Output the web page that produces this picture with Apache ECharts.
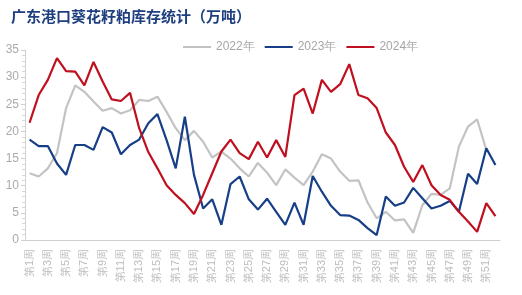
<!DOCTYPE html>
<html>
<head>
<meta charset="utf-8">
<script src="https://cdn.jsdelivr.net/npm/echarts@6/dist/echarts.min.js"></script>
<style>
  html, body { margin: 0; padding: 0; background: #fff; }
  #chart { width: 522px; height: 295px; }
</style>
</head>
<body>
<div id="chart"></div>
<script>
  // weeks 1..52
  var weeks = []
  for (var i = 1; i <= 52; i++) weeks.push('第' + i + '周')

  var y2022 = [12.3, 11.7, 13.2, 16.0, 24.3, 28.5, 27.3, 25.5, 23.8, 24.3, 23.3, 23.9, 25.8,
    25.6, 26.4, 23.6, 20.6, 18.4, 20.1, 18.1, 15.2, 16.3, 15.0, 13.2, 11.7, 14.2,
    12.4, 10.1, 13.0, 11.5, 10.1, 12.6, 15.8, 15.0, 12.6, 10.9, 11.0, 6.9, 4.0,
    5.2, 3.6, 3.8, 1.3, 6.4, 8.5, 8.3, 9.5, 17.2, 20.9, 22.2, 16.6]
  var y2023 = [18.5, 17.3, 17.3, 14.1, 12.0, 17.5, 17.5, 16.6, 20.8, 19.8, 15.8, 17.5, 18.5,
    21.5, 23.2, 18.4, 13.2, 22.7, 12.0, 5.8, 7.5, 2.8, 10.3, 11.7, 7.5, 5.6,
    7.6, 5.2, 2.8, 6.9, 2.8, 11.8, 8.9, 6.3, 4.6, 4.5, 3.7, 2.2, 0.9,
    8.0, 6.3, 6.9, 9.6, 7.7, 5.8, 6.3, 7.2, 5.2, 12.2, 10.3, 16.9, 13.8]
  var y2024 = [21.6, 26.7, 29.5, 33.5, 31.1, 31.0, 28.5, 32.8, 29.2, 25.9, 25.6, 27.1, 20.6,
    16.2, 13.2, 10.1, 8.3, 6.8, 4.8, 8.3, 12.3, 16.3, 18.5, 16.0, 14.9, 18.1,
    15.2, 18.4, 15.3, 26.7, 27.9, 23.3, 29.5, 27.3, 28.7, 32.4, 26.7, 26.1, 24.3,
    19.8, 17.5, 13.5, 10.7, 13.8, 10.1, 8.3, 7.4, 5.2, 3.4, 1.5, 6.8, 4.4]

  var chart = echarts.init(document.getElementById('chart'))
  chart.setOption({
    animation: false,
    title: {
      text: '广东港口葵花籽粕库存统计（万吨）',
      left: 6,
      top: 4,
      textStyle: {
        color: '#1f3f7f',
        fontSize: 15,
        fontWeight: 'bold',
        fontFamily: 'Noto Sans CJK SC'
      }
    },
    legend: {
      left: 178,
      top: 36,
      itemWidth: 28,
      itemHeight: 2,
      itemGap: 10,
      icon: 'rect',
      textStyle: { color: '#a6a6a6', fontSize: 12 },
      data: ['2022年', '2023年', '2024年']
    },
    grid: {
      left: 25,
      right: 22,
      top: 50,
      bottom: 55
    },
    xAxis: {
      type: 'category',
      data: weeks,
      boundaryGap: true,
      axisLine: { lineStyle: { color: '#d0d0d0' } },
      axisTick: { alignWithLabel: true, interval: 0, length: 3, lineStyle: { color: '#d0d0d0' } },
      axisLabel: {
        rotate: 90,
        interval: 1,
        color: '#bdbdbd',
        fontSize: 11,
        margin: 9
      }
    },
    yAxis: {
      type: 'value',
      min: 0,
      max: 35,
      interval: 5,
      splitLine: { show: false },
      axisLine: { show: true, lineStyle: { color: '#d0d0d0' } },
      axisTick: { show: true, length: 4, lineStyle: { color: '#d0d0d0' } },
      minorTick: { show: true, splitNumber: 5, length: 3, lineStyle: { color: '#d8d8d8' } },
      axisLabel: { color: '#aaaaaa', fontSize: 12, margin: 6 }
    },
    series: [
      {
        name: '2022年',
        type: 'line',
        data: y2022,
        symbol: 'none',
        lineStyle: { width: 2.2, color: '#c3c3c3' },
        itemStyle: { color: '#c3c3c3' }
      },
      {
        name: '2023年',
        type: 'line',
        data: y2023,
        symbol: 'none',
        lineStyle: { width: 2.2, color: '#173f88' },
        itemStyle: { color: '#173f88' }
      },
      {
        name: '2024年',
        type: 'line',
        data: y2024,
        symbol: 'none',
        lineStyle: { width: 2.2, color: '#c00f1e' },
        itemStyle: { color: '#c00f1e' }
      }
    ]
  })
</script>
</body>
</html>
